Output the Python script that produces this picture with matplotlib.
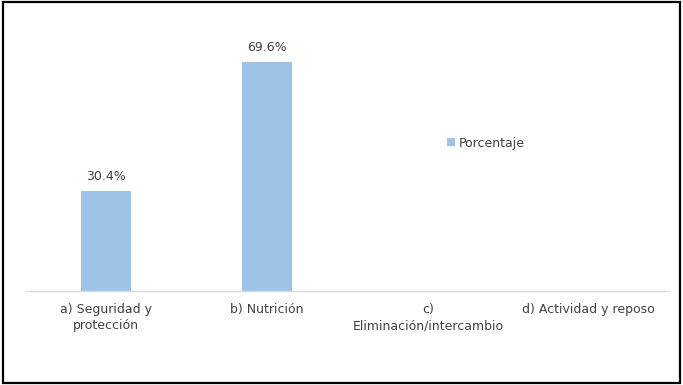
import matplotlib
matplotlib.use("Agg")
import matplotlib.pyplot as plt
from matplotlib.patches import Rectangle

categories = ["a) Seguridad y\nprotección", "b) Nutrición",
              "c)\nEliminación/intercambio", "d) Actividad y reposo"]
values = [30.4, 69.6, None, None]
series_name = "Porcentaje"

bar_color = "#9DC3E6"
text_color = "#404040"

fig = plt.figure(figsize=(6.83, 3.85), dpi=100)
fig.patches.append(Rectangle((0.005, 0.005), 0.99, 0.99, transform=fig.transFigure,
                             fill=False, edgecolor="black", linewidth=1.6))

ax = fig.add_axes([26 / 683, 1 - 291 / 385, (669 - 26) / 683, (291 - 28) / 385])
x = list(range(len(categories)))
heights = [v if v is not None else 0 for v in values]
bars = ax.bar(x, heights, width=0.31, color=bar_color, label=series_name, zorder=2)
for xi, v in zip(x, values):
    if v is not None:
        ax.annotate(f"{v:.1f}%", (xi, v), xytext=(0, 6), textcoords="offset points",
                    ha="center", va="bottom", fontsize=9, color=text_color)

ax.set_xlim(-0.5, len(categories) - 0.5)
ax.set_ylim(0, 80)
ax.set_yticks([])
ax.set_xticks(x)
ax.set_xticklabels(categories, fontsize=9, color=text_color, linespacing=1.3)
ax.tick_params(axis="x", length=0, pad=9)
for side in ("top", "right", "left"):
    ax.spines[side].set_visible(False)
ax.spines["bottom"].set_color("#D9D9D9")
ax.spines["bottom"].set_linewidth(1.0)

leg = fig.legend(handles=[bars], labels=[series_name], loc="center left",
                 bbox_to_anchor=(447 / 683, 1 - 143 / 385), frameon=False,
                 fontsize=9, handlelength=0.6, handleheight=0.6,
                 handletextpad=0.3, borderpad=0, borderaxespad=0)
for t in leg.get_texts():
    t.set_color(text_color)

fig.savefig("out.png", dpi=100)
